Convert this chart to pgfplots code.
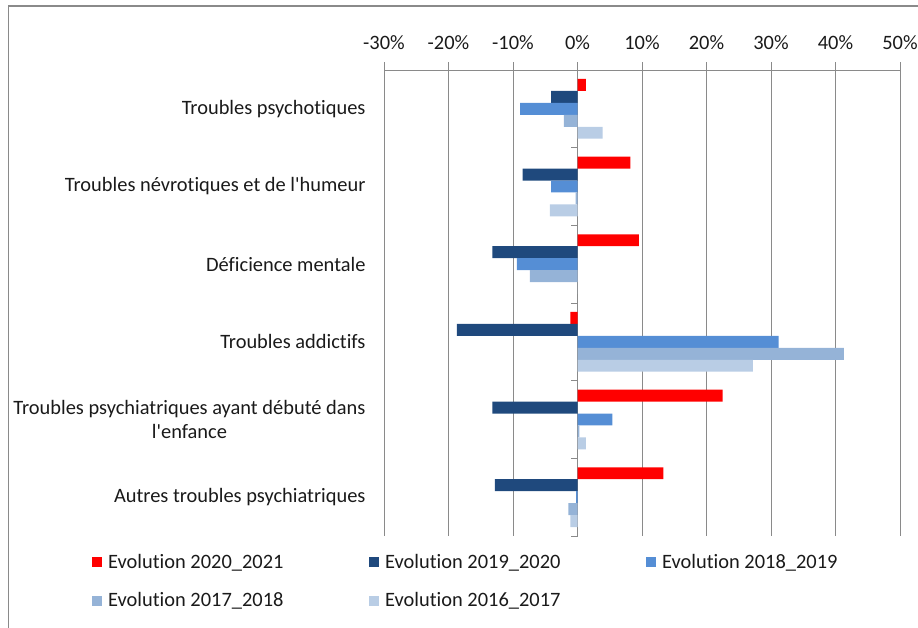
\documentclass[border=0pt]{standalone}
\usepackage{pgfplots}
\usepackage{pgfplotstable}
\pgfplotsset{compat=1.18}
\usepackage{fontspec}
\setmainfont{Carlito}[Ligatures={NoCommon}]

\definecolor{c1}{HTML}{FF0000}
\definecolor{c2}{HTML}{1F497D}
\definecolor{c3}{HTML}{558ED5}
\definecolor{c4}{HTML}{95B3D7}
\definecolor{c5}{HTML}{B9CDE5}
\definecolor{gridc}{HTML}{8A8A8A}
\definecolor{txt}{HTML}{1A1A1A}

% y = category index (0 = Troubles psychotiques), x = evolution in %
\pgfplotstableread{
y x
0 1.3
1 8.2
2 9.5
3 -1.1
4 22.5
5 13.3
}\evA
\pgfplotstableread{
y x
0 -4.1
1 -8.5
2 -13.2
3 -18.7
4 -13.2
5 -12.8
}\evB
\pgfplotstableread{
y x
0 -8.9
1 -4.1
2 -9.4
3 31.2
4 5.4
5 -0.2
}\evC
\pgfplotstableread{
y x
0 -2.1
1 -0.3
2 -7.4
3 41.3
4 0.3
5 -1.4
}\evD
\pgfplotstableread{
y x
0 3.9
1 -4.3
2 0
3 27.2
4 1.3
5 -1.1
}\evE

\pgfplotsset{sqlegend/.style={legend image code/.code={\fill[##1] (0bp,-5bp) rectangle (10bp,5bp);}}}

\begin{document}
\begin{tikzpicture}
\useasboundingbox (0bp,0bp) rectangle (918bp,-628bp);
\draw[gridc, line width=1.6bp] (8.5bp,-1000bp) -- (8.5bp,-6bp) -- (2000bp,-6bp);
\begin{axis}[
  at={(384bp,-70bp)}, anchor=north west,
  scale only axis, width=516bp, height=466bp,
  xbar, bar width=0.154,
  xmin=-30, xmax=50, xtick={-30,-20,...,50},
  xticklabels={-30\%,-20\%,-10\%,0\%,10\%,20\%,30\%,40\%,50\%},
  ymin=-0.5, ymax=5.5, y dir=reverse,
  ytick={0,...,5},
  yticklabels={Troubles psychotiques, Troubles névrotiques et de l\textquotesingle humeur, Déficience mentale, Troubles addictifs, {Troubles psychiatriques ayant débuté dans\\l\textquotesingle enfance}, Autres troubles psychiatriques},
  axis x line*=top, axis y line*=left,
  y axis line style={draw=none}, ytick style={draw=none},
  x axis line style={gridc, line width=1bp, -},
  xtick style={gridc, line width=1bp},
  xtick align=outside, major tick length=8bp,
  xmajorgrids, grid style={gridc, line width=1bp},
  ticklabel style={font=\fontsize{20.5}{24.5}\selectfont, text=txt},
  xticklabel style={yshift=9bp},
  yticklabel style={align=center, anchor=east, xshift=-7bp},
  /pgf/number format/assume math mode=true,
  clip=false,
  legend columns=3,
  legend style={draw=none, fill=none, at={(-0.5659,-0.034)}, anchor=north west,
    font=\fontsize{20.5}{24.5}\selectfont, text=txt,
    /tikz/every odd column/.append style={column sep=4bp},
    row sep=19bp, inner sep=0pt},
  legend cell align=left,
]
\addplot[fill=c1, draw=none, bar shift=-0.308, sqlegend] table[x=x,y=y] {\evA};
\addplot[fill=c2, draw=none, bar shift=-0.154, sqlegend] table[x=x,y=y] {\evB};
\addplot[fill=c3, draw=none, bar shift=0, sqlegend] table[x=x,y=y] {\evC};
\addplot[fill=c4, draw=none, bar shift=0.154, sqlegend] table[x=x,y=y] {\evD};
\addplot[fill=c5, draw=none, bar shift=0.308, sqlegend] table[x=x,y=y] {\evE};
\addlegendentry{\makebox[259bp][l]{Evolution 2020\_2021}}
\addlegendentry{\makebox[259bp][l]{Evolution 2019\_2020}}
\addlegendentry{\makebox[230bp][l]{Evolution 2018\_2019}}
\addlegendentry{\makebox[259bp][l]{Evolution 2017\_2018}}
\addlegendentry{\makebox[259bp][l]{Evolution 2016\_2017}}
\pgfplotsinvokeforeach{-0.5,0.5,1.5,2.5,3.5,4.5,5.5}{
  \draw[gridc, line width=1bp] (axis cs:0,#1) -- ([xshift=-7bp]axis cs:0,#1);
}
\end{axis}
\end{tikzpicture}
\end{document}
